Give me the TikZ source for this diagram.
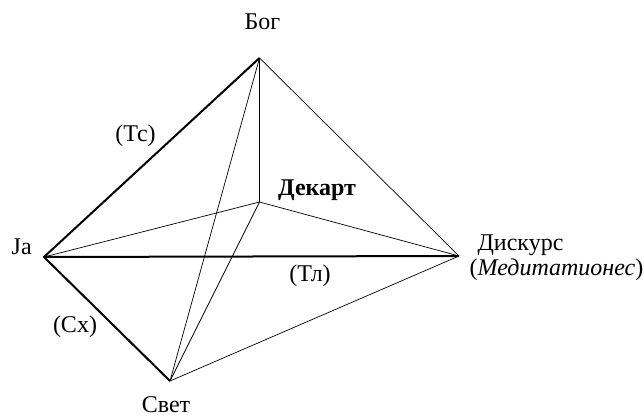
\documentclass[tikz,border=0pt]{standalone}
\usepackage{fontspec}
\setmainfont{Liberation Serif}
\begin{document}
\begin{tikzpicture}[x=1pt, y=-1pt, font=\fontsize{24}{28}\selectfont,
  thin edge/.style={line width=0.7pt},
  thick edge/.style={line width=2pt},
  lbl/.style={inner sep=0pt, anchor=base}]
\useasboundingbox (0,0) rectangle (644,417);
% Vertices
\coordinate (bog) at (259.5,58);
\coordinate (dekart) at (259.5,202);
\coordinate (ja) at (44,257);
\coordinate (diskurs) at (459,256);
\coordinate (svet) at (170,381);
% Thin edges
\draw[thin edge] (bog) -- (diskurs);
\draw[thin edge] (bog) -- (dekart);
\draw[thin edge] (bog) -- (svet);
\draw[thin edge] (ja) -- (dekart) -- (diskurs);
\draw[thin edge] (dekart) -- (svet) -- (diskurs);
% Thick edges
\draw[thick edge, line join=round] (bog) -- (ja) -- (svet);
\draw[thick edge] (ja) -- (diskurs);
% Labels
\node[lbl] (bogLabel) at (262.5,30) {Бог};
\node[lbl, anchor=base west] (dekartLabel) at (278,195) {\bfseries Декарт};
\node[lbl] (jaLabel) at (21.7,254) {Ja};
\node[lbl] (diskursLabel) at (520.5,250) {Дискурс};
\node[lbl] (meditLabel) at (556.5,275) {(\textit{Медитатионес})};
\node[lbl] (svetLabel) at (166,412) {Свет};
\node[lbl] (tcLabel) at (135.5,141) {(Тс)};
\node[lbl] (tlLabel) at (310,281) {(Тл)};
\node[lbl] (cxLabel) at (75,332) {(Сх)};
\end{tikzpicture}
\end{document}
